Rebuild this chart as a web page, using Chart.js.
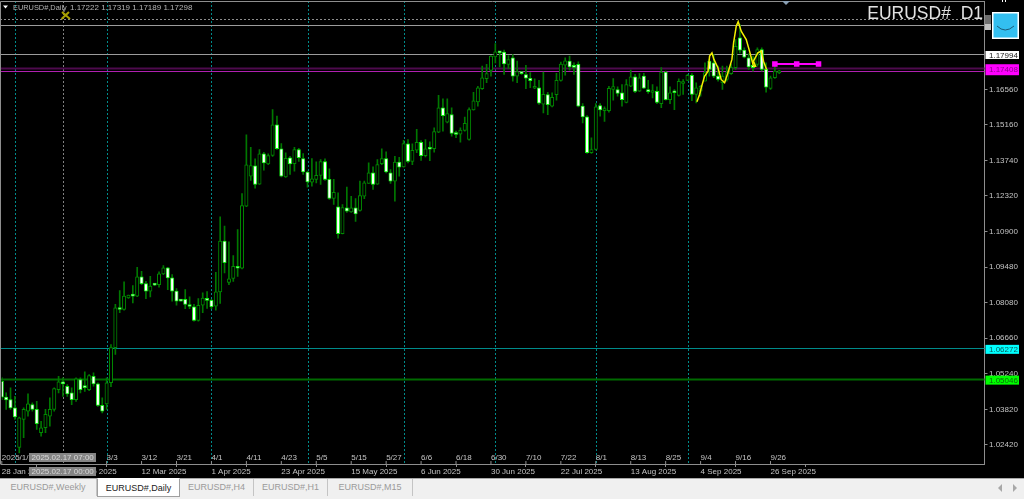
<!DOCTYPE html>
<html>
<head>
<meta charset="utf-8">
<title>EURUSD#,Daily</title>
<script src="https://cdn.jsdelivr.net/npm/chart.js@4/dist/chart.umd.min.js"></script>
<style>
html, body { margin: 0; padding: 0; width: 1024px; height: 499px; overflow: hidden; background: #f0f0f0; }
canvas { display: block; background: #000; }
#tabs { position: relative; height: 21px; border-top: 1px solid #a8a8a8; background: #f0f0f0; font: 9px "Liberation Sans", sans-serif; color: #9a9a9a; }
.tab { position: absolute; top: 0; height: 17px; line-height: 17px; text-align: center; border-right: 1px solid #c4c4c4; box-sizing: border-box; }
.tab.on { top: -1px; height: 19px; line-height: 19px; background: #fff; color: #222; border: 1px solid #a0a0a0; border-top-color: #fff; }
.arrow { position: absolute; top: 5px; width: 0; height: 0; border-top: 4px solid transparent; border-bottom: 4px solid transparent; }
</style>
</head>
<body>
<canvas id="chart" width="1024" height="478"></canvas>
<div id="tabs">
  <div class="tab" style="left:0;width:97px">EURUSD#,Weekly</div>
  <div class="tab on" style="left:97px;width:83px">EURUSD#,Daily</div>
  <div class="tab" style="left:180px;width:74px">EURUSD#,H4</div>
  <div class="tab" style="left:254px;width:74px">EURUSD#,H1</div>
  <div class="tab" style="left:328px;width:85px">EURUSD#,M15</div>
  <div class="arrow" style="left:998px;border-right:4px solid #a8a8a8"></div>
  <div class="arrow" style="left:1013px;border-left:4px solid #a8a8a8"></div>
</div>
<script>
// daily candles, one entry per bar
const opens = [
  1.0494,1.0431,1.0421,1.0388,1.0231,1.0342,1.0375,1.0401,1.0382,1.0289,
  1.0309,1.0355,1.0382,1.0461,1.0488,1.0474,1.0448,1.0421,1.0501,1.0473,
  1.0461,1.0514,1.0484,1.0398,1.0404,1.0488,1.0628,1.0787,1.0780,1.0826,
  1.0839,1.0833,1.0910,1.0883,1.0853,1.0882,1.0879,1.0922,1.0946,1.0906,
  1.0853,1.0818,1.0820,1.0798,1.0791,1.0736,1.0797,1.0821,1.0816,1.0793,
  1.0850,1.1052,1.0888,1.0904,1.0952,1.0944,1.1191,1.1311,1.1352,1.1279,
  1.1400,1.1360,1.1394,1.1515,1.1420,1.1308,1.1384,1.1361,1.1417,1.1381,
  1.1327,1.1287,1.1298,1.1314,1.1369,1.1298,1.1222,1.1189,1.1082,1.1185,
  1.1169,1.1185,1.1174,1.1231,1.1282,1.1324,1.1279,1.1361,1.1381,1.1324,
  1.1291,1.1367,1.1348,1.1440,1.1370,1.1414,1.1446,1.1393,1.1421,1.1420,
  1.1486,1.1583,1.1526,1.1556,1.1478,1.1478,1.1493,1.1457,1.1575,1.1607,
  1.1659,1.1699,1.1732,1.1786,1.1807,1.1805,1.1756,1.1782,1.1709,1.1723,
  1.1715,1.1701,1.1661,1.1663,1.1598,1.1636,1.1590,1.1635,1.1692,1.1753,
  1.1769,1.1752,1.1756,1.1590,1.1547,1.1404,1.1417,1.1592,1.1572,1.1572,
  1.1656,1.1656,1.1643,1.1605,1.1669,1.1707,1.1649,1.1709,1.1656,1.1644,
  1.1649,1.1600,1.1725,1.1616,1.1645,1.1632,1.1680,1.1692,1.1712,1.1636,
  1.1649,1.1689,1.1769,1.1762,1.1709,1.1683,1.1696,1.1719,1.1743,1.1862,
  1.1813,1.1782,1.1752,1.1756,1.1815,1.1736,1.1660,1.1703,1.17222
];
const highs = [
  1.0509,1.0448,1.0468,1.0434,1.0351,1.0388,1.0444,1.0408,1.0414,1.0335,
  1.0382,1.0428,1.0468,1.0514,1.0508,1.0481,1.0468,1.0508,1.0508,1.0532,
  1.0521,1.0528,1.0488,1.0428,1.0508,1.0640,1.0800,1.0855,1.0890,1.0837,
  1.0875,1.0948,1.0932,1.0892,1.0912,1.0882,1.0930,1.0955,1.0948,1.0919,
  1.0863,1.0818,1.0859,1.0830,1.0800,1.0823,1.0846,1.0851,1.0820,1.0928,
  1.1149,1.1112,1.1049,1.0995,1.1098,1.1242,1.1476,1.1426,1.1380,1.1417,
  1.1406,1.1400,1.1576,1.1550,1.1441,1.1404,1.1390,1.1426,1.1422,1.1401,
  1.1331,1.1381,1.1368,1.1377,1.1380,1.1340,1.1298,1.1245,1.1198,1.1267,
  1.1231,1.1222,1.1291,1.1291,1.1364,1.1348,1.1377,1.1420,1.1408,1.1337,
  1.1390,1.1386,1.1454,1.1457,1.1440,1.1497,1.1453,1.1457,1.1448,1.1503,
  1.1633,1.1619,1.1619,1.1583,1.1490,1.1503,1.1546,1.1583,1.1645,1.1669,
  1.1749,1.1756,1.1791,1.1839,1.1807,1.1813,1.1791,1.1795,1.1769,1.1727,
  1.1752,1.1723,1.1699,1.1693,1.1725,1.1645,1.1643,1.1720,1.1765,1.1782,
  1.1789,1.1762,1.1766,1.1600,1.1552,1.1464,1.1600,1.1600,1.1587,1.1669,
  1.1700,1.1667,1.1676,1.1696,1.1733,1.1716,1.1719,1.1720,1.1693,1.1676,
  1.1667,1.1743,1.1729,1.1667,1.1656,1.1699,1.1696,1.1716,1.1719,1.1683,
  1.1673,1.1762,1.1776,1.1795,1.1749,1.1749,1.1749,1.1756,1.1855,1.1915,
  1.1822,1.1798,1.1789,1.1822,1.1822,1.1762,1.1709,1.1749,1.17319
];
const lows = [
  1.0421,1.0382,1.0382,1.0342,1.0209,1.0269,1.0355,1.0375,1.0302,1.0275,
  1.0289,1.0315,1.0375,1.0448,1.0434,1.0434,1.0401,1.0414,1.0448,1.0454,
  1.0457,1.0475,1.0394,1.0368,1.0382,1.0473,1.0601,1.0767,1.0777,1.0824,
  1.0806,1.0831,1.0879,1.0823,1.0830,1.0875,1.0869,1.0919,1.0859,1.0813,
  1.0797,1.0813,1.0783,1.0783,1.0733,1.0733,1.0767,1.0784,1.0783,1.0777,
  1.0804,1.0926,1.0879,1.0892,1.0912,1.0942,1.1189,1.1294,1.1263,1.1278,
  1.1335,1.1357,1.1390,1.1417,1.1308,1.1306,1.1318,1.1331,1.1370,1.1318,
  1.1267,1.1271,1.1284,1.1278,1.1294,1.1218,1.1198,1.1064,1.1081,1.1167,
  1.1167,1.1131,1.1171,1.1221,1.1282,1.1258,1.1278,1.1357,1.1324,1.1282,
  1.1211,1.1311,1.1347,1.1364,1.1357,1.1404,1.1374,1.1388,1.1373,1.1406,
  1.1484,1.1490,1.1523,1.1470,1.1464,1.1446,1.1490,1.1454,1.1574,1.1590,
  1.1656,1.1683,1.1709,1.1762,1.1746,1.1716,1.1739,1.1689,1.1683,1.1716,
  1.1659,1.1663,1.1659,1.1597,1.1563,1.1556,1.1587,1.1614,1.1689,1.1713,
  1.1733,1.1716,1.1587,1.1523,1.1401,1.1401,1.1414,1.1550,1.1529,1.1566,
  1.1614,1.1629,1.1590,1.1603,1.1667,1.1643,1.1648,1.1659,1.1640,1.1623,
  1.1600,1.1584,1.1614,1.1600,1.1576,1.1629,1.1636,1.1692,1.1612,1.1603,
  1.1629,1.1689,1.1709,1.1703,1.1689,1.1656,1.1689,1.1716,1.1736,1.1802,
  1.1782,1.1736,1.1729,1.1749,1.1729,1.1645,1.1656,1.1700,1.17189
];
const closes = [
  1.0431,1.0420,1.0388,1.0352,1.0348,1.0382,1.0404,1.0382,1.0325,1.0309,
  1.0362,1.0382,1.0465,1.0492,1.0484,1.0444,1.0421,1.0504,1.0461,1.0469,
  1.0517,1.0484,1.0398,1.0375,1.0488,1.0628,1.0787,1.0780,1.0833,1.0837,
  1.0833,1.0910,1.0883,1.0853,1.0873,1.0877,1.0922,1.0946,1.0906,1.0853,
  1.0813,1.0813,1.0800,1.0792,1.0736,1.0797,1.0825,1.0816,1.0791,1.0850,
  1.1052,1.0966,1.0902,1.0952,1.0944,1.1194,1.1356,1.1353,1.1278,1.1400,
  1.1364,1.1393,1.1515,1.1420,1.1311,1.1382,1.1360,1.1417,1.1385,1.1328,
  1.1288,1.1300,1.1314,1.1369,1.1298,1.1222,1.1247,1.1082,1.1186,1.1171,
  1.1185,1.1161,1.1234,1.1284,1.1324,1.1278,1.1357,1.1381,1.1328,1.1291,
  1.1367,1.1347,1.1441,1.1370,1.1414,1.1446,1.1393,1.1420,1.1418,1.1488,
  1.1583,1.1552,1.1560,1.1481,1.1477,1.1494,1.1521,1.1576,1.1611,1.1663,
  1.1703,1.1719,1.1789,1.1806,1.1802,1.1758,1.1775,1.1709,1.1727,1.1719,
  1.1701,1.1691,1.1667,1.1602,1.1637,1.1596,1.1625,1.1693,1.1757,1.1770,
  1.1746,1.1744,1.1590,1.1547,1.1404,1.1417,1.1587,1.1575,1.1576,1.1661,
  1.1668,1.1640,1.1616,1.1676,1.1707,1.1648,1.1703,1.1661,1.1647,1.1652,
  1.1605,1.1725,1.1616,1.1643,1.1643,1.1689,1.1688,1.1712,1.1636,1.1663,
  1.1669,1.1723,1.1736,1.1709,1.1696,1.1709,1.1723,1.1743,1.1828,1.1813,
  1.1785,1.1746,1.1743,1.1815,1.1736,1.1665,1.1703,1.1729,1.17298
];

// price axis
const priceTicks = [1.0242,1.0382,1.0524,1.0666,1.0808,1.0948,1.109,1.1232,1.1374,1.1516,1.1656];

// time axis: bar index and label
const bottomTickBars = [0,16,32,48,64,80,96,112,128,144,160,176];
const bottomTickLabels = ['28 Jan 2025','20 Feb 2025','12 Mar 2025','1 Apr 2025','23 Apr 2025','15 May 2025','6 Jun 2025','30 Jun 2025','22 Jul 2025','13 Aug 2025','4 Sep 2025','26 Sep 2025'];
const topTickBars = [0,24,32,40,48,56,64,72,80,88,96,104,112,120,128,136,144,152,160,168,176];
const topTickLabels = ['2025/1/28','3/3','3/12','3/21','4/1','4/11','4/23','5/5','5/15','5/27','6/6','6/18','6/30','7/10','7/22','8/1','8/13','8/25','9/4','9/16','9/26'];

// drawn objects on the chart
const monthBars = [3,24,48,70,92,113,136,157];
const crosshairBar = [14];
const greyLevels = [1.1913,1.17994];
const dottedLevels = [1.1936];
const dimLevel = [1.17408];
const bidLevel = [1.17298];
const cyanLevel = [1.06272];
const greenLevel = [1.05046];
const yellowBars = [159.16,159.77,160.15,160.9,161.7,162.06,162.6,163.05,163.96,164.7,165.5,166.25,167.17,167.55,168.16,168.6,169.3,170.45,171.2,172.1,172.58,172.1,173.1,173.9,174.4,175.1];
const yellowPrices = [1.1607,1.1636,1.1663,1.1709,1.1729,1.1789,1.1802,1.1776,1.1743,1.1696,1.1683,1.1723,1.1776,1.1842,1.1908,1.1926,1.1888,1.1855,1.1809,1.1749,1.1749,1.1769,1.1802,1.1809,1.1769,1.1736];
const pinkBars = [177,182,187];
const pinkPrices = [1.1758,1.1758,1.1758];

const barCount = 226;
const categories = Array.from({ length: barCount }, (_, i) => i);

const FONT = '"Liberation Sans", sans-serif';
const TXT = '#c4c4c4';

const overlayPlugin = {
    id: 'overlay',
    beforeDatasetsDraw(chart) {
        const { ctx, chartArea: a, scales: { x, y } } = chart;

        function hLine(price, color, width, dash) {
            const py = Math.round(y.getPixelForValue(price)) + 0.5;
            ctx.strokeStyle = color;
            ctx.lineWidth = width;
            ctx.setLineDash(dash || []);
            ctx.beginPath();
            ctx.moveTo(0, py);
            ctx.lineTo(a.right, py);
            ctx.stroke();
        }
        function vLine(bar, color) {
            const px = Math.round(x.getPixelForValue(bar)) + 0.5;
            ctx.strokeStyle = color;
            ctx.lineWidth = 1;
            ctx.setLineDash([2, 2]);
            ctx.beginPath();
            ctx.moveTo(px, a.top);
            ctx.lineTo(px, a.bottom);
            ctx.stroke();
        }

        ctx.save();
        monthBars.forEach(b => vLine(b, '#008b8b'));
        crosshairBar.forEach(b => vLine(b, '#808080'));
        greyLevels.forEach(p => hLine(p, '#9c9c9c', 1));
        dottedLevels.forEach(p => hLine(p, '#8c8c8c', 1, [2, 2]));
        dimLevel.forEach(p => hLine(p, '#4d0a4d', 2));
        bidLevel.forEach(p => hLine(p, '#b020b0', 1));
        cyanLevel.forEach(p => hLine(p, '#008b8b', 1));
        greenLevel.forEach(p => hLine(p, '#006a00', 2));
        ctx.restore();
    },
    afterDraw(chart) {
        const { ctx, chartArea: a, scales: { x, y } } = chart;
        ctx.save();

        // frame of the plot
        ctx.strokeStyle = '#8e8e8e';
        ctx.lineWidth = 1;
        ctx.beginPath();
        ctx.moveTo(0.5, a.bottom + 0.5);
        ctx.lineTo(0.5, 1.5);
        ctx.lineTo(a.right, 1.5);
        ctx.stroke();

        // upper row of time labels with its tick marks
        ctx.font = '8px ' + FONT;
        ctx.fillStyle = TXT;
        ctx.textBaseline = 'middle';
        ctx.textAlign = 'left';
        topTickBars.forEach((b, i) => {
            const px = x.getPixelForValue(b);
            ctx.fillText(topTickLabels[i], px, 457.5);
            ctx.beginPath();
            ctx.moveTo(px, a.bottom - 3);
            ctx.lineTo(px, a.bottom);
            ctx.stroke();
        });

        // crosshair time boxes
        [['2025.02.17 07:00', 453], ['2025.02.17 00:00', 467]].forEach(([t, top]) => {
            ctx.fillStyle = '#858585';
            ctx.fillRect(29, top, 67, 9);
            ctx.fillStyle = '#d8d8d8';
            ctx.fillText(t, 31.5, top + 4.8);
        });

        // legend line
        ctx.fillStyle = '#fff';
        ctx.beginPath();
        ctx.moveTo(3, 5.5); ctx.lineTo(8, 5.5); ctx.lineTo(5.5, 8.5);
        ctx.closePath();
        ctx.fill();
        ctx.fillStyle = '#b4b4b4';
        ctx.font = '7.4px ' + FONT;
        ctx.fillText('EURUSD#,Daily', 13, 8);
        ctx.font = '8px ' + FONT;
        const last = opens.length - 1;
        ctx.fillText([opens[last], highs[last], lows[last], closes[last]].map(v => v.toFixed(5)).join(' '), 70, 8);

        // big symbol text
        ctx.font = '17.5px ' + FONT;
        ctx.fillStyle = '#e2e2e2';
        ctx.textAlign = 'right';
        ctx.fillText('EURUSD#  D1', 983, 14.5);

        // price boxes on the axis
        ctx.font = '8px ' + FONT;
        ctx.textAlign = 'left';
        [[greyLevels[1], '#fff', '#222', 8], [dimLevel[0], '#ff00ff', '#8c008c', 11], [cyanLevel[0], '#00ffff', '#0a5a5a', 9], [greenLevel[0], '#00ff00', '#0a6a0a', 9]].forEach(([p, bg, fg, h]) => {
            const py = y.getPixelForValue(p) + 1.5;
            ctx.fillStyle = bg;
            ctx.fillRect(985.5, py - h / 2, 33.5, h);
            ctx.fillStyle = fg;
            ctx.fillText(p.toFixed(5), 989, py + 0.3);
        });

        // small bits round the corner
        ctx.fillStyle = '#6e6e6e';
        ctx.fillRect(985, 15, 6, 9);
        ctx.fillStyle = '#c0c0c0';
        ctx.fillRect(985, 24, 6, 6);
        ctx.fillStyle = '#fff';
        ctx.fillRect(1002, 0, 1, 2);
        ctx.fillRect(1005, 0, 1, 2);
        ctx.fillRect(992, 12, 27, 27);
        ctx.fillStyle = '#33bff0';
        ctx.fillRect(993.5, 13.5, 24, 24);
        ctx.strokeStyle = '#1c5a78';
        ctx.lineWidth = 1;
        ctx.beginPath();
        ctx.moveTo(997, 26);
        ctx.quadraticCurveTo(1005, 34, 1014, 26);
        ctx.stroke();

        // shift marker on top of the plot
        ctx.fillStyle = '#8aa0b4';
        ctx.beginPath();
        ctx.moveTo(782, 1); ctx.lineTo(790, 1); ctx.lineTo(786, 5);
        ctx.closePath();
        ctx.fill();

        // crossed tools icon at the crosshair bar
        ctx.strokeStyle = '#a8a000';
        ctx.lineWidth = 2;
        ctx.beginPath();
        ctx.moveTo(61.5, 19); ctx.lineTo(69, 12);
        ctx.moveTo(62, 12); ctx.lineTo(70, 19);
        ctx.stroke();

        ctx.restore();
    }
};

new Chart(document.getElementById('chart'), {
    data: {
        labels: categories,
        datasets: [
            {
                type: 'scatter', label: 'yellow', xAxisID: 'xl', order: 1, showLine: true,
                data: yellowBars.map((b, i) => ({ x: b, y: yellowPrices[i] })),
                borderColor: '#f4f000', borderWidth: 1.5, pointRadius: 0
            },
            {
                type: 'scatter', label: 'trend', xAxisID: 'xl', order: 2, showLine: true,
                data: pinkBars.map((b, i) => ({ x: b, y: pinkPrices[i] })),
                borderColor: '#ff00ff', borderWidth: 2, pointStyle: 'rect', pointRadius: 2.5,
                pointBackgroundColor: '#ff00ff', pointBorderColor: '#ff00ff'
            },
            {
                type: 'bar', label: 'down', order: 3, grouped: false, barThickness: 3.4, borderSkipped: false, minBarLength: 2,
                data: opens.map((o, i) => closes[i] < o ? [closes[i], o] : null),
                backgroundColor: '#ffffff', borderColor: '#12f012', borderWidth: 1
            },
            {
                type: 'bar', label: 'up', order: 4, grouped: false, barThickness: 3.4, borderSkipped: false, minBarLength: 2,
                data: opens.map((o, i) => closes[i] >= o ? [o, closes[i]] : null),
                backgroundColor: '#000000', borderColor: '#008a00', borderWidth: 1
            },
            {
                type: 'bar', label: 'wick', order: 5, grouped: false, barThickness: 1, borderSkipped: false,
                data: highs.map((h, i) => [lows[i], h]),
                backgroundColor: '#007800'
            }
        ]
    },
    options: {
        responsive: false,
        animation: false,
        events: [],
        layout: { autoPadding: false, padding: { left: 1.8, top: 1 } },
        plugins: { legend: { display: false }, tooltip: { enabled: false } },
        scales: {
            x: {
                type: 'category',
                offset: false,
                afterFit(axis) {
                    axis.height = 14;
                    axis.paddingLeft = axis.paddingRight = 0;
                },
                grid: { drawOnChartArea: false, tickLength: 3, color: '#8e8e8e' },
                border: { color: '#8e8e8e' },
                ticks: {
                    autoSkip: false, maxRotation: 0, minRotation: 0, align: 'start', padding: 0,
                    color: TXT, font: { family: FONT, size: 8 },
                    callback(v, i) {
                        const k = bottomTickBars.indexOf(i);
                        return k >= 0 ? bottomTickLabels[k] : null;
                    }
                }
            },
            xl: { type: 'linear', display: false, min: 0, max: barCount - 1 },
            y: {
                type: 'linear',
                position: 'right',
                min: 1.01646,
                max: 1.20085,
                afterBuildTicks(axis) { axis.ticks = priceTicks.map(value => ({ value })); },
                afterFit(axis) {
                    axis.width = 39.5;
                    axis.paddingTop = axis.paddingBottom = 0;
                },
                grid: { drawOnChartArea: false, tickLength: 3, color: '#8e8e8e' },
                border: { color: '#8e8e8e' },
                ticks: {
                    padding: 1.5, color: TXT, font: { family: FONT, size: 8 },
                    callback(v) { return v.toFixed(5); }
                }
            }
        }
    },
    plugins: [overlayPlugin]
});
</script>
</body>
</html>
